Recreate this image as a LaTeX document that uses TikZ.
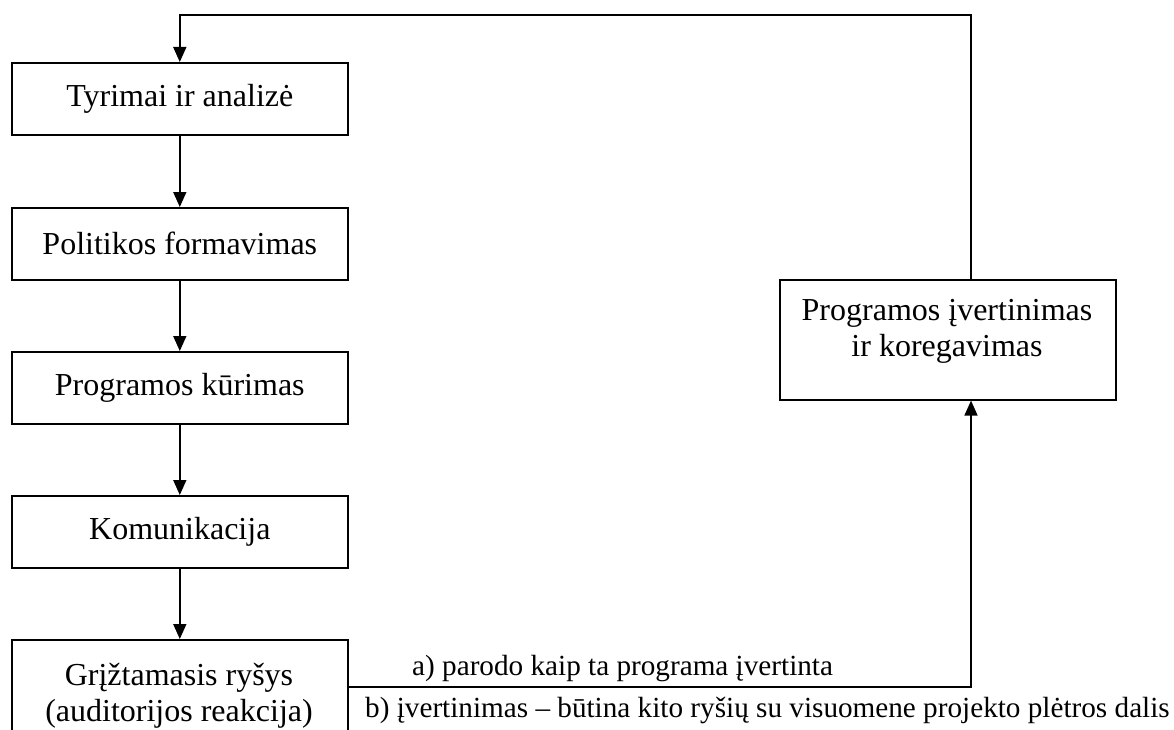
\documentclass[tikz,border=0pt]{standalone}
\usepackage{fontspec}
\setmainfont{Liberation Serif}
\usetikzlibrary{arrows.meta}
\begin{document}
\begin{tikzpicture}[x=1pt,y=-1pt,
  every node/.style={font=\fontsize{32}{36}\selectfont},
  stepbox/.style={draw,line width=1.6pt,minimum width=336pt,minimum height=72pt,inner sep=0pt,anchor=north west},
  bigbox/.style={draw,line width=1.6pt,minimum width=336pt,minimum height=120pt,inner sep=0pt,anchor=north west},
  lowbox/.style={draw,line width=1.6pt,minimum width=336pt,minimum height=130pt,inner sep=0pt,anchor=north west},
  txt/.style={inner sep=0pt,align=center},
  lbl/.style={inner sep=0pt,anchor=base west,font=\fontsize{29.2}{34}\selectfont},
  conn/.style={line width=1.6pt},
  arr/.style={conn,-{Triangle[length=15pt,width=13pt]}}]
\clip (0,0) rectangle (1174,730);
\fill[white] (0,0) rectangle (1174,730);
\node[stepbox] (b1) at (11,62) {Tyrimai ir analizė};
\node[stepbox] (b2) at (11,207) {Politikos formavimas};
\node[stepbox] (b3) at (11,351) {Programos kūrimas};
\node[stepbox] (b4) at (11,495) {Komunikacija};
\node[lowbox] (b5) at (11,639) {};
\node[txt,anchor=north] (t5) at (179,663) {Grįžtamasis ryšys\\(auditorijos reakcija)};
\node[bigbox] (b6) at (779,279) {};
\node[txt,anchor=north] (t6) at (947,299) {Programos įvertinimas\\ir koregavimas};
\coordinate (rx) at (971,0);
\coordinate (topy) at (0,15);
\coordinate (ly) at (0,687);
\draw[arr] (b1.south) -- (b2.north);
\draw[arr] (b2.south) -- (b3.north);
\draw[arr] (b3.south) -- (b4.north);
\draw[arr] (b4.south) -- (b5.north);
\draw[arr] (b6.north -| rx) |- (b1.north |- topy) -- (b1.north);
\draw[arr] (b5.east |- ly) -| (b6.south -| rx);
\node[lbl] (la) at (412,675) {a) parodo kaip ta programa įvertinta};
\node[lbl] (lb) at (365,717) {b) įvertinimas – būtina kito ryšių su visuomene projekto plėtros dalis};
\end{tikzpicture}
\end{document}
